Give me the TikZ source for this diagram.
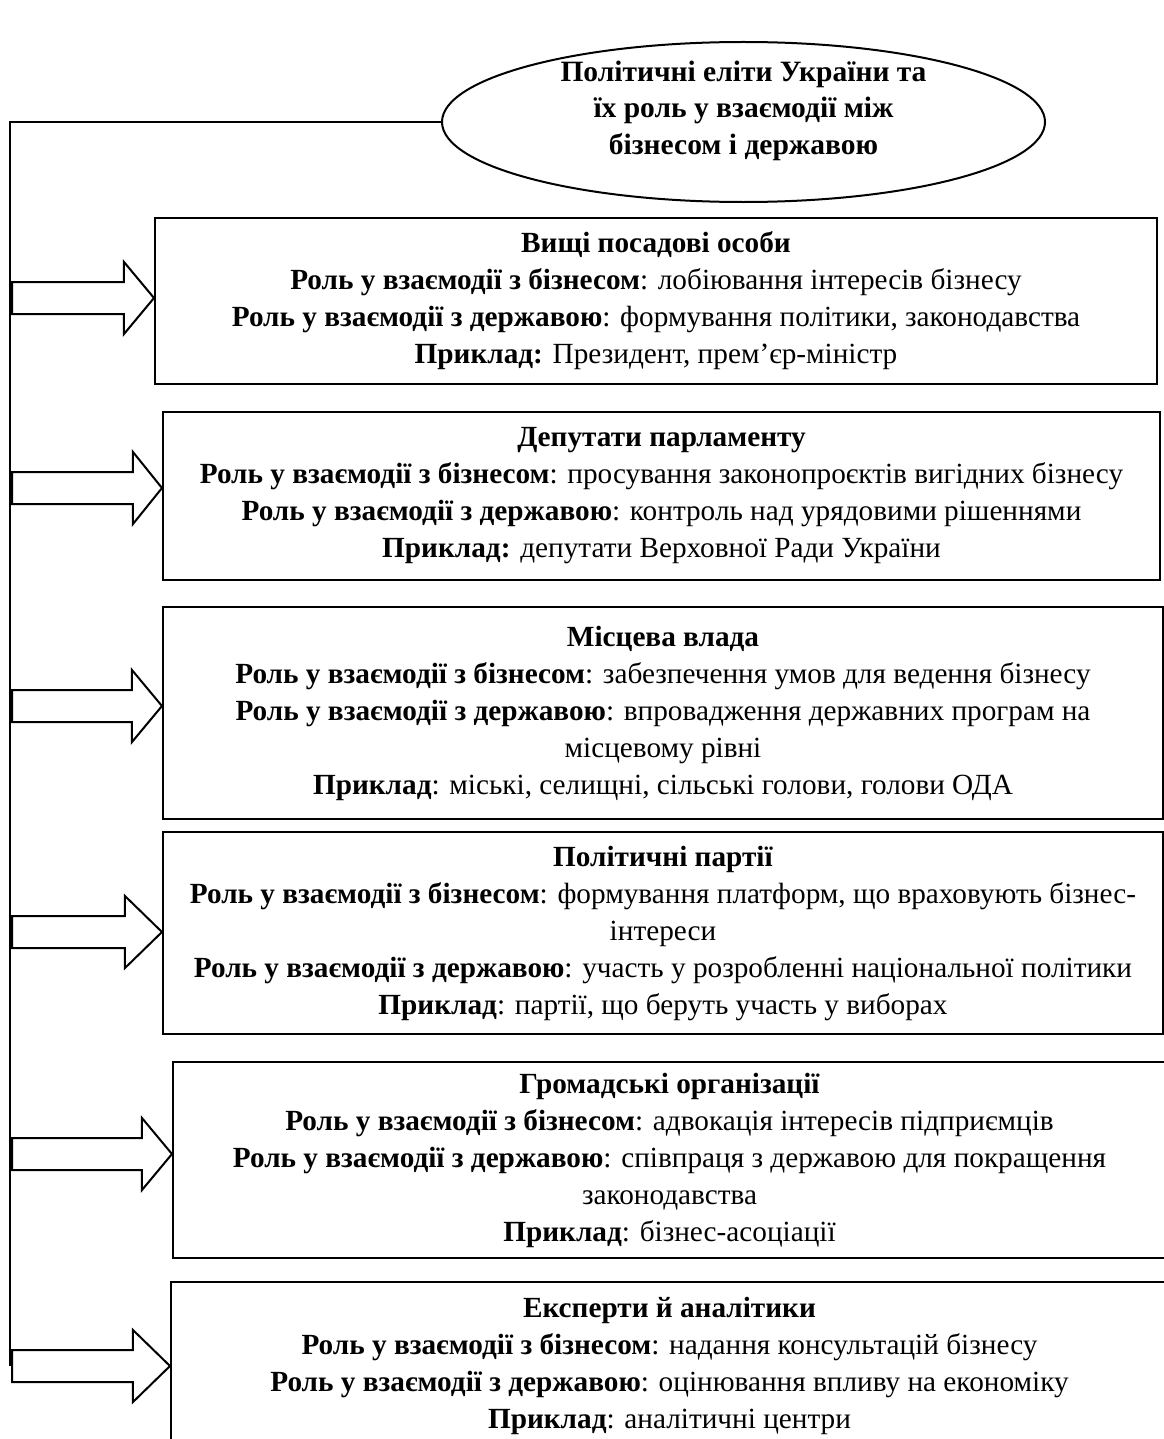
\documentclass[tikz,border=0pt]{standalone}
\usepackage{fontspec}
\setmainfont{Liberation Serif}
\usetikzlibrary{shapes.geometric,calc}

\tikzset{
	rolebox/.style={draw, line width=0.8pt, align=center, inner sep=0pt,
		font=\fontsize{11.7}{14.8}\selectfont},
	blockarrow/.style={draw, line width=0.8pt, fill=white, line join=miter},
}

\begin{document}
\begin{tikzpicture}[x=0.4pt, y=-0.4pt]
	\useasboundingbox (0,0) rectangle (1164,1439);
	\node[ellipse, draw, line width=0.8pt, minimum width=241.2pt, minimum height=64pt,
		label={[yshift=4.6pt, align=center, font=\bfseries\fontsize{11.8}{14.6}\selectfont]center:Політичні еліти України та\\їх роль у взаємодії між\\бізнесом і державою}] (elity) at (743.5,122) {};
	\node[rolebox, minimum width=400.8pt, minimum height=66.4pt] (vyshchi) at (656,301) {\textbf{Вищі посадові особи}\\
		\textbf{Роль у взаємодії з бізнесом}: лобіювання інтересів бізнесу\\
		\textbf{Роль у взаємодії з державою}: формування політики, законодавства\\
		\textbf{Приклад:} Президент, прем’єр-міністр};
	\node[rolebox, minimum width=398.8pt, minimum height=67.2pt] (deputaty) at (661.5,496) {\textbf{Депутати парламенту}\\
		\textbf{Роль у взаємодії з бізнесом}: просування законопроєктів вигідних бізнесу\\
		\textbf{Роль у взаємодії з державою}: контроль над урядовими рішеннями\\
		\textbf{Приклад:} депутати Верховної Ради України};
	\node[rolebox, minimum width=400pt, minimum height=84.8pt] (vlada) at (663,713) {\textbf{Місцева влада}\\
		\textbf{Роль у взаємодії з бізнесом}: забезпечення умов для ведення бізнесу\\
		\textbf{Роль у взаємодії з державою}: впровадження державних програм на\\
		місцевому рівні\\
		\textbf{Приклад}: міські, селищні, сільські голови, голови ОДА};
	\node[rolebox, minimum width=400pt, minimum height=80.8pt] (partii) at (663,933) {\textbf{Політичні партії}\\
		\textbf{Роль у взаємодії з бізнесом}: формування платформ, що враховують бізнес-\\
		інтереси\\
		\textbf{Роль у взаємодії з державою}: участь у розробленні національної політики\\
		\textbf{Приклад}: партії, що беруть участь у виборах};
	\node[rolebox, minimum width=397.2pt, minimum height=78.4pt] (hromadski) at (669.5,1160) {\textbf{Громадські організації}\\
		\textbf{Роль у взаємодії з бізнесом}: адвокація інтересів підприємців\\
		\textbf{Роль у взаємодії з державою}: співпраця з державою для покращення\\
		законодавства\\
		\textbf{Приклад}: бізнес-асоціації};
	\node[rolebox, minimum width=398.8pt, minimum height=67.2pt] (eksperty) at (669.5,1366) {\textbf{Експерти й аналітики}\\
		\textbf{Роль у взаємодії з бізнесом}: надання консультацій бізнесу\\
		\textbf{Роль у взаємодії з державою}: оцінювання впливу на економіку\\
		\textbf{Приклад}: аналітичні центри};
	% spine
	\coordinate (corner) at (10,122);
	\draw[line width=0.5pt] (elity.west) -- (corner) -- (corner |- eksperty.west);
	% block arrows
	\foreach \b/\dy/\h in {vyshchi/-3/30, deputaty/-8/29, vlada/-7/30, partii/-1/37, hromadski/-6/30, eksperty/0/37}
		\draw[blockarrow] ($(corner |- \b.west)+(2,\dy-16)$) -- ($(\b.west)+(-\h,\dy-16)$)
			-- ($(\b.west)+(-\h,\dy-36)$) -- ($(\b.west)+(0,\dy)$) -- ($(\b.west)+(-\h,\dy+36)$)
			-- ($(\b.west)+(-\h,\dy+16)$) -- ($(corner |- \b.west)+(2,\dy+16)$) -- cycle;
\end{tikzpicture}
\end{document}
